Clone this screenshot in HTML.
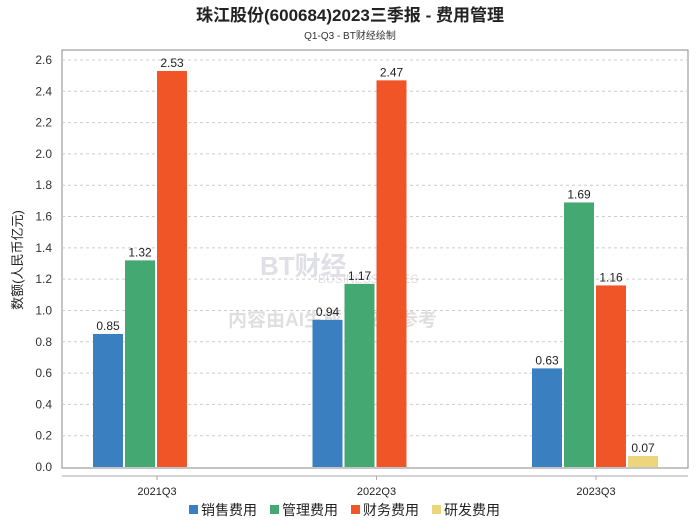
<!DOCTYPE html>
<html><head><meta charset="utf-8"><style>
body{margin:0;background:#fff;font-family:"Liberation Sans","Noto Sans CJK SC",sans-serif;}
</style></head><body>
<svg width="700" height="524" xmlns="http://www.w3.org/2000/svg">
<text x="350" y="21" text-anchor="middle" font-size="17" font-weight="bold" fill="#222" font-family="Liberation Sans, Noto Sans CJK SC, sans-serif">珠江股份(600684)2023三季报 - 费用管理</text>
<text x="350" y="39" text-anchor="middle" font-size="10" fill="#333" font-family="Liberation Sans, Noto Sans CJK SC, sans-serif">Q1-Q3 - BT财经绘制</text>
<g id="watermark" opacity="0.18" font-family="Liberation Sans, Noto Sans CJK SC, sans-serif">
<text x="260" y="275" font-size="26" fill="#557" font-weight="bold">BT财经</text>
<text x="318" y="283" font-size="12" fill="#557">BUSINESS TIMES</text>
<text x="228" y="326" font-size="19" fill="#555" font-weight="bold">内容由AI生成，仅供参考</text>
</g>
<rect x="62" y="50" width="626" height="418" fill="none" stroke="#888"/>
<line x1="62" y1="476" x2="688" y2="476" stroke="#aaa"/>
<g id="grid"></g><g id="bars"></g><g id="xlab"></g>
<text transform="translate(22,260) rotate(-90)" text-anchor="middle" font-size="13" fill="#222" font-family="Liberation Sans, Noto Sans CJK SC, sans-serif">数额(人民币亿元)</text>
<g id="legend"></g>
</svg>
<script>
const categories=["2021Q3","2022Q3","2023Q3"];
const seriesNames=["销售费用","管理费用","财务费用","研发费用"];
const sales=[0.85,0.94,0.63];
const admin=[1.32,1.17,1.69];
const finance=[2.53,2.47,1.16];
const rnd=[null,null,0.07];
const yTicks=[0,0.2,0.4,0.6,0.8,1.0,1.2,1.4,1.6,1.8,2.0,2.2,2.4,2.6];
const colors=["#3a7fbf","#44a872","#f05528","#ecd57a"];
const NS="http://www.w3.org/2000/svg";
const y=v=>467-v*(407/2.6);
const xc=i=>157+i*219.5;
function mk(t,a,p){const e=document.createElementNS(NS,t);for(const k in a)e.setAttribute(k,a[k]);p.appendChild(e);return e;}
const grid=document.getElementById('grid');
yTicks.forEach(v=>{
 if(v>0){const l=mk('line',{x1:62,x2:688,y1:y(v),y2:y(v),stroke:'#ccc','stroke-dasharray':'3,3'},grid);
 
 }
 const t=mk('text',{x:52,y:y(v)+4,'text-anchor':'end','font-size':12,fill:'#333'},grid);
 t.textContent=v.toFixed(1);
 
 
});
const bars=document.getElementById('bars');
const all=[sales,admin,finance,rnd];
categories.forEach((c,i)=>{
 all.forEach((s,j)=>{
  const v=s[i]; if(v==null) return;
  const x=xc(i)-64+j*32;
  const r=mk('rect',{x:x,y:y(v),width:30,height:467-y(v),fill:colors[j]},bars);
  
  
  const t=mk('text',{x:x+15,y:y(v)-4,'text-anchor':'middle','font-size':12,fill:'#222'},bars);
  t.textContent=v.toFixed(2);
  
  
 });
 const xl=document.getElementById('xlab');
 const tk=mk('line',{x1:xc(i),x2:xc(i),y1:476,y2:480,stroke:'#aaa'},xl);
 
 
 const t=mk('text',{x:xc(i),y:495,'text-anchor':'middle','font-size':11,fill:'#222'},xl);
 t.textContent=c;
 
 
});
const lg=document.getElementById('legend');
const lx=[189,270,351,432];
seriesNames.forEach((n,j)=>{
 const r=mk('rect',{x:lx[j],y:505,width:9,height:9,fill:colors[j]},lg);
 
 
 const t=mk('text',{x:lx[j]+12,y:515,'font-size':14,fill:'#222','font-family':'Liberation Sans, Noto Sans CJK SC, sans-serif'},lg);
 t.textContent=n;
 
 
});
</script>
</body></html>
